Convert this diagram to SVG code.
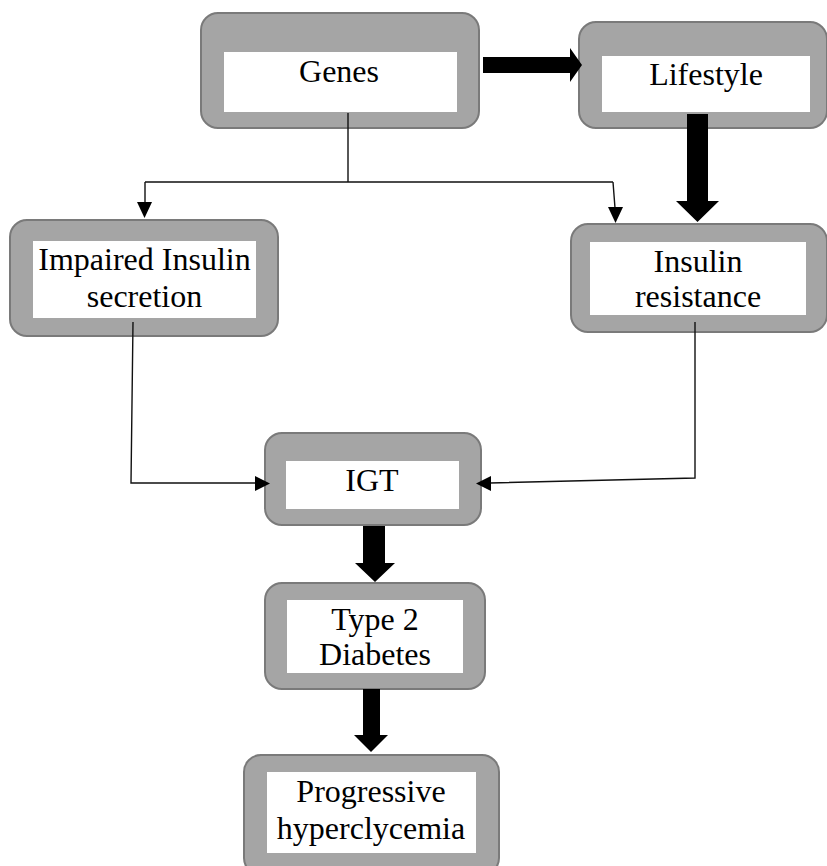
<svg xmlns="http://www.w3.org/2000/svg" width="827" height="866" viewBox="0 0 827 866">
  <style>
    .outer { fill: #a5a5a5; stroke: #7a7a7a; stroke-width: 2; }
    .inner { fill: #ffffff; }
    .label { font-family: "Liberation Serif", "Times New Roman", serif; font-size: 32px; fill: #000; text-anchor: middle; }
    .thin { fill: none; stroke: #111; stroke-width: 1.4; }
    .head { fill: #000; }
    .thick { fill: #000; }
  </style>

  <rect width="827" height="866" fill="#ffffff"/>

  <g id="node-genes">
    <rect class="outer" x="201" y="13" width="278" height="115" rx="17"/>
    <rect class="inner" x="224" y="52" width="233" height="60"/>
    <text class="label" x="339" y="82">Genes</text>
  </g>

  <g id="node-lifestyle">
    <rect class="outer" x="579" y="22" width="248" height="106" rx="17"/>
    <rect class="inner" x="602" y="56" width="208" height="56"/>
    <text class="label" x="706" y="85">Lifestyle</text>
  </g>

  <g id="node-impaired-secretion">
    <rect class="outer" x="10" y="220" width="268" height="116" rx="17"/>
    <rect class="inner" x="33" y="241" width="223" height="77"/>
    <text class="label" x="144.5" y="270">Impaired Insulin</text>
    <text class="label" x="144.5" y="307">secretion</text>
  </g>

  <g id="node-insulin-resistance">
    <rect class="outer" x="571" y="224" width="256" height="108" rx="17"/>
    <rect class="inner" x="590" y="242" width="216" height="73"/>
    <text class="label" x="698" y="272">Insulin</text>
    <text class="label" x="698" y="307">resistance</text>
  </g>

  <g id="node-igt">
    <rect class="outer" x="265" y="433" width="216" height="92" rx="17"/>
    <rect class="inner" x="286" y="461" width="173" height="48"/>
    <text class="label" x="372" y="491">IGT</text>
  </g>

  <g id="node-type2">
    <rect class="outer" x="265" y="583" width="220" height="106" rx="17"/>
    <rect class="inner" x="287" y="600" width="176" height="73"/>
    <text class="label" x="375" y="630">Type 2</text>
    <text class="label" x="375" y="665">Diabetes</text>
  </g>

  <g id="node-progressive">
    <rect class="outer" x="244" y="755" width="255" height="120" rx="17"/>
    <rect class="inner" x="267" y="772" width="209" height="81"/>
    <text class="label" x="371" y="802">Progressive</text>
    <text class="label" x="371" y="839">hyperclycemia</text>
  </g>

  <g id="connectors">
    <!-- Genes splits to both branches -->
    <path class="thin" d="M348 113 V182 M145 182 H613 M145 182 V203 M613 182 L615 208"/>
    <polygon class="head" points="137,202 152,202 144.5,218"/>
    <polygon class="head" points="608,207 623,207 615.5,223"/>

    <!-- Impaired secretion to IGT -->
    <path class="thin" d="M133 322 L131 483 H256"/>
    <polygon class="head" points="255,476 255,491 270,483.5"/>

    <!-- Insulin resistance to IGT -->
    <path class="thin" d="M695 322 V478 L490 483"/>
    <polygon class="head" points="491,476 491,491 476,483.5"/>

    <!-- block arrows -->
    <polygon class="thick" points="483,57 570,57 570,48 582,65 570,82 570,73 483,73"/>
    <polygon class="thick" points="687,114 708,114 708,201 719,201 697.5,222 676,201 687,201"/>
    <polygon class="thick" points="363,526 385,526 385,563 395,563 375,582 355,563 363,563"/>
    <polygon class="thick" points="363,689 380,689 380,735 388,735 371,752 354,735 363,735"/>
  </g>
</svg>
